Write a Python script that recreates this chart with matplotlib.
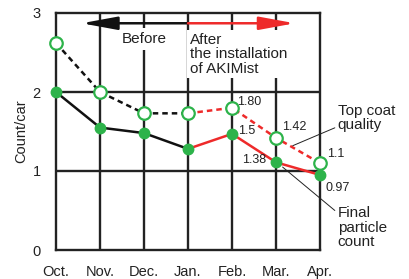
import matplotlib
matplotlib.use('Agg')
from matplotlib import pyplot as plt

plt.rcParams['font.family'] = ['Liberation Sans', 'DejaVu Sans']

months = ['Oct.', 'Nov.', 'Dec.', 'Jan.', 'Feb.', 'Mar.', 'Apr.']
top_coat = [2.62, 2.0, 1.73, 1.73, 1.80, 1.42, 1.10]
final_count = [2.0, 1.55, 1.48, 1.28, 1.47, 1.11, 0.95]
top_labels = {4: '1.80', 5: '1.42', 6: '1.1'}
final_labels = {4: '1.5', 5: '1.38', 6: '0.97'}

green = '#2db34a'
red = '#ee2a2a'
x = list(range(len(months)))

fig = plt.figure(figsize=(4.09, 2.79), dpi=100)
ax = fig.add_axes([56 / 409, 1 - 250 / 279, 264 / 409, 237 / 279])
ax.set_xlim(0, 6)
ax.set_ylim(0, 3)

# grid
for xi in [1, 2, 3, 4, 5]:
    ax.axvline(xi, color='#222222', lw=1.7, zorder=1)
for yi in [1, 2]:
    ax.axhline(yi, color='#222222', lw=1.7, zorder=1)
for s in ax.spines.values():
    s.set_linewidth(1.7)
    s.set_color('#222222')

# lines: before (black) and after (red)
ax.plot(x[:4], top_coat[:4], color='#111111', ls=(0, (2.2, 1.6)), lw=1.8, zorder=3)
ax.plot(x[3:], top_coat[3:], color=red, ls=(0, (2.2, 1.6)), lw=1.8, zorder=3)
ax.plot(x[:4], final_count[:4], color='#111111', lw=1.8, zorder=3)
ax.plot(x[3:], final_count[3:], color=red, lw=1.8, zorder=3)

ax.plot(x, top_coat, ls='none', marker='o', ms=9, mfc='white', mec=green, mew=1.6,
        zorder=4, clip_on=False)
ax.plot(x, final_count, ls='none', marker='o', ms=7.5, mfc=green, mec=green,
        zorder=4, clip_on=False)

offsets_top = {4: (5, 3), 5: (6, 8), 6: (7, 6)}
offsets_final = {4: (6, 0), 5: (-34, -1), 6: (5, -16)}
for i, t in top_labels.items():
    ax.annotate(t, (x[i], top_coat[i]), textcoords='offset pixels', xytext=offsets_top[i],
                fontsize=9, color='#222222', zorder=5)
for i, t in final_labels.items():
    ax.annotate(t, (x[i], final_count[i]), textcoords='offset pixels', xytext=offsets_final[i],
                fontsize=9, color='#222222', zorder=5)

# before / after arrows
ax.annotate('', xy=(0.58, 2.87), xytext=(3, 2.87),
            arrowprops=dict(arrowstyle='-|>,head_length=1.2,head_width=0.22', color='#111111',
                            lw=1.8, shrinkA=0, shrinkB=0, mutation_scale=18), zorder=5)
ax.annotate('', xy=(5.43, 2.87), xytext=(3, 2.87),
            arrowprops=dict(arrowstyle='-|>,head_length=1.2,head_width=0.22', color=red,
                            lw=1.8, shrinkA=0, shrinkB=0, mutation_scale=18), zorder=5)
ax.text(2, 2.67, 'Before', ha='center', va='center', fontsize=11, color='#222222',
        bbox=dict(fc='white', ec='none', pad=3), zorder=2)
ax.text(3.05, 2.48, 'After\nthe installation\nof AKIMist', ha='left', va='center', fontsize=11,
        color='#222222', linespacing=1.05, bbox=dict(fc='white', ec='none', pad=2), zorder=2)

# series callouts
ax.annotate('Top coat\nquality', xy=(5.38, 1.32), xytext=(6.4, 1.67), fontsize=11,
            color='#222222', linespacing=1.05, va='center', ha='left', annotation_clip=False,
            arrowprops=dict(arrowstyle='-', color='#222222', lw=0.7, shrinkA=0, shrinkB=0,
                            relpos=(0, 0.2)))
ax.annotate('Final\nparticle\ncount', xy=(5.15, 1.05), xytext=(6.4, 0.28), fontsize=11,
            color='#222222', linespacing=1.05, va='center', ha='left', annotation_clip=False,
            arrowprops=dict(arrowstyle='-', color='#222222', lw=0.7, shrinkA=0, shrinkB=0,
                            relpos=(0, 0.85)))

ax.set_xticks(x)
ax.set_xticklabels(months, fontsize=10.5, color='#222222')
ax.set_yticks([0, 1, 2, 3])
ax.set_yticklabels(['0', '1', '2', '3'], fontsize=10.5, color='#222222')
ax.tick_params(length=0, pad=11)
ax.set_ylabel('Count/car', fontsize=10.5, color='#222222', labelpad=3)

fig.savefig('out.png', dpi=100)
